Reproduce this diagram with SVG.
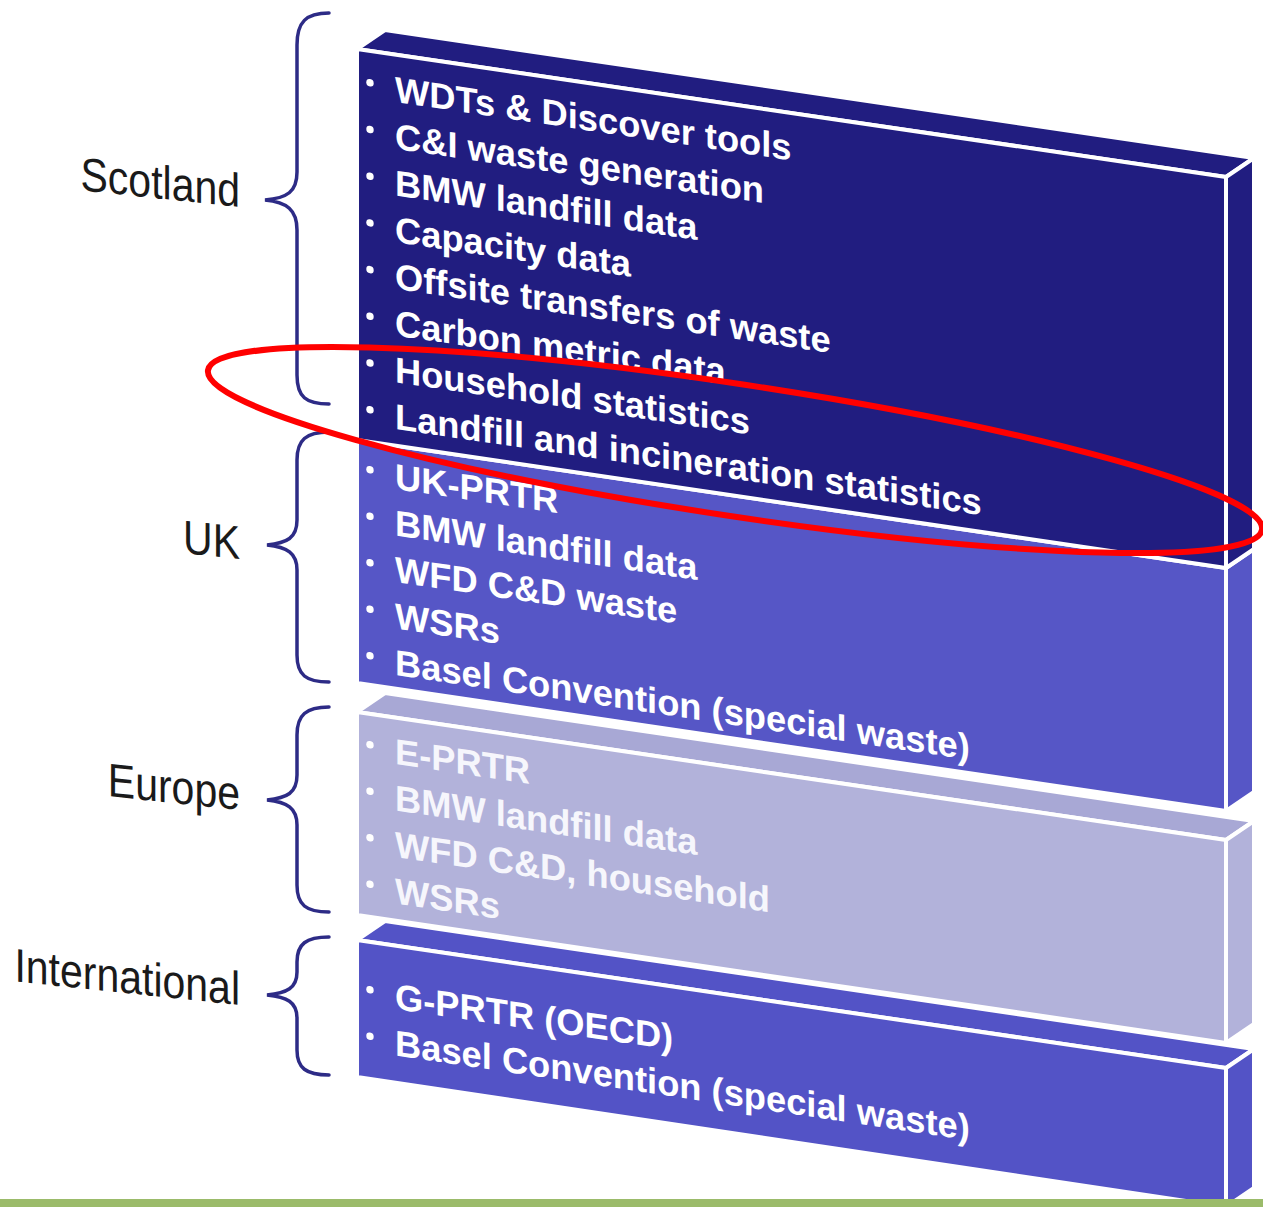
<svg xmlns="http://www.w3.org/2000/svg" width="1263" height="1207" viewBox="0 0 1263 1207">
<style>
.face{stroke:#ffffff;stroke-width:4;stroke-linejoin:round}
.sc{fill:#211d80}
.uk{fill:#5656c6}
.eu{fill:#b2b2da}
.eut{fill:#a8a8d5}
.in{fill:#5353c6}
.item{font-family:"Liberation Sans",Arial,sans-serif;font-weight:bold;font-size:36.3px;fill:#ffffff}
.item.light{fill:#f6f6fc}
.dot{fill:#ffffff}
.lab{font-family:"Liberation Sans",Arial,sans-serif;font-size:41px;fill:#1a1a1a;text-anchor:end}
.brace{fill:none;stroke:#2d2b86;stroke-width:3.5;stroke-linecap:round}
</style>
<rect x="0" y="0" width="1263" height="1207" fill="#ffffff"/>

<g id="box-international">
<polygon class="face in" points="357,940 1226,1068 1254,1049 385,921"/>
<polygon class="face in" points="1226,1068 1254,1049 1254,1188 1226,1207"/>
<polygon class="face in" points="357,940 1226,1068 1226,1207 357,1077"/>
<g transform="translate(395,1009) skewY(8.38)">
<circle class="dot" cx="-25" cy="-15.5" r="3.7"/><text class="item" x="0" y="0">G-PRTR (OECD)</text>
<circle class="dot" cx="-25" cy="31" r="3.7"/><text class="item" x="0" y="46.5">Basel Convention (special waste)</text>
</g>
</g>

<g id="box-europe">
<polygon class="face eut" points="357,712 1226,840 1254,821 385,693"/>
<polygon class="face eu" points="1226,840 1254,821 1254,1024 1226,1043"/>
<polygon class="face eu" points="357,712 1226,840 1226,1043 357,915"/>
<g transform="translate(395,764) skewY(8.38)">
<circle class="dot" cx="-25" cy="-15.5" r="3.7"/><text class="item light" x="0" y="0">E-PRTR</text>
<circle class="dot" cx="-25" cy="31" r="3.7"/><text class="item light" x="0" y="46.5">BMW landfill data</text>
<circle class="dot" cx="-25" cy="77.5" r="3.7"/><text class="item light" x="0" y="93">WFD C&amp;D, household</text>
<circle class="dot" cx="-25" cy="124" r="3.7"/><text class="item light" x="0" y="139.5">WSRs</text>
</g>
</g>

<g id="box-uk">
<polygon class="face uk" points="1226,568 1254,549 1254,792 1226,811"/>
<polygon class="face uk" points="357,440 1226,568 1226,811 357,683"/>
<g transform="translate(395,489) skewY(8.38)">
<circle class="dot" cx="-25" cy="-15.5" r="3.7"/><text class="item" x="0" y="0">UK-PRTR</text>
<circle class="dot" cx="-25" cy="31" r="3.7"/><text class="item" x="0" y="46.5">BMW landfill data</text>
<circle class="dot" cx="-25" cy="77.5" r="3.7"/><text class="item" x="0" y="93">WFD C&amp;D waste</text>
<circle class="dot" cx="-25" cy="124" r="3.7"/><text class="item" x="0" y="139.5">WSRs</text>
<circle class="dot" cx="-25" cy="170.5" r="3.7"/><text class="item" x="0" y="186">Basel Convention (special waste)</text>
</g>
</g>

<g id="box-scotland">
<polygon class="face sc" points="357,49 1226,177 1254,158 385,30"/>
<polygon class="face sc" points="1226,177 1254,158 1254,549 1226,568"/>
<polygon class="face sc" points="357,49 1226,177 1226,568 357,440"/>
<g transform="translate(395,102) skewY(8.38)">
<circle class="dot" cx="-25" cy="-15.5" r="3.7"/><text class="item" x="0" y="0">WDTs &amp; Discover tools</text>
<circle class="dot" cx="-25" cy="31.2" r="3.7"/><text class="item" x="0" y="46.7">C&amp;I waste generation</text>
<circle class="dot" cx="-25" cy="77.9" r="3.7"/><text class="item" x="0" y="93.4">BMW landfill data</text>
<circle class="dot" cx="-25" cy="124.6" r="3.7"/><text class="item" x="0" y="140.1">Capacity data</text>
<circle class="dot" cx="-25" cy="171.3" r="3.7"/><text class="item" x="0" y="186.8">Offsite transfers of waste</text>
<circle class="dot" cx="-25" cy="218" r="3.7"/><text class="item" x="0" y="233.5">Carbon metric data</text>
<circle class="dot" cx="-25" cy="264.7" r="3.7"/><text class="item" x="0" y="280.2">Household statistics</text>
<circle class="dot" cx="-25" cy="311.4" r="3.7"/><text class="item" x="0" y="326.9">Landfill and incineration statistics</text>
</g>
</g>

<g id="label-scotland">
<path class="brace" d="M329,13 C306,13 297,22 297,45 L297,172 C297,192 287,198 265,200 C287,202 297,210 297,230 L297,375 C297,397 306,404 329,404"/>
<text class="lab" transform="translate(240,207) skewY(6) scale(1,1.15)">Scotland</text>
</g>
<g id="label-uk">
<path class="brace" d="M329,432 C306,432 297,440 297,460 L297,520 C297,538 287,543 267,545 C287,547 297,553 297,570 L297,655 C297,675 306,682 329,682"/>
<text class="lab" transform="translate(240,559) skewY(6) scale(1,1.15)">UK</text>
</g>
<g id="label-europe">
<path class="brace" d="M329,707 C306,707 297,715 297,735 L297,775 C297,793 287,798 267,800 C287,802 297,808 297,825 L297,885 C297,905 306,912 329,912"/>
<text class="lab" transform="translate(240,810) skewY(6) scale(1,1.15)">Europe</text>
</g>
<g id="label-international">
<path class="brace" d="M329,937 C306,937 297,944 297,962 L297,972 C297,988 287,993 267,995 C287,997 297,1002 297,1018 L297,1050 C297,1068 306,1075 329,1075"/>
<text class="lab" transform="translate(240,1005) skewY(6) scale(1,1.15)">International</text>
</g>

<g id="connectors">
<ellipse cx="735" cy="450" rx="533" ry="66" transform="rotate(8.6 735 450)" fill="none" stroke="#ff0000" stroke-width="6"/>
</g>

<rect x="0" y="1199" width="1263" height="8" fill="#9bbb6a"/>
</svg>
